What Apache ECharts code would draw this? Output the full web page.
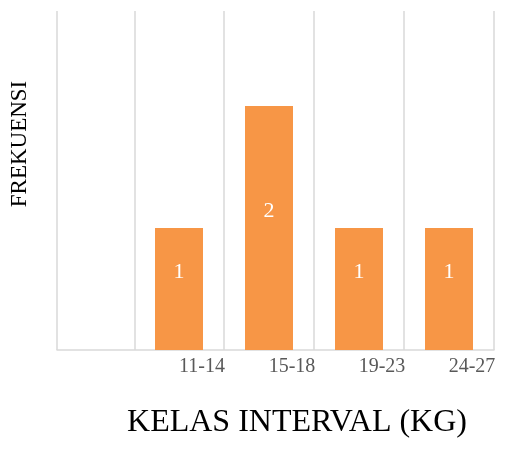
<!DOCTYPE html>
<html>
<head>
<meta charset="utf-8">
<script src="https://cdn.jsdelivr.net/npm/echarts@6/dist/echarts.min.js"></script>
<style>
  html, body { margin: 0; padding: 0; background: #ffffff; }
  #chart { width: 506px; height: 451px; }
</style>
</head>
<body>
<div id="chart"></div>
<script>
// Frequency distribution of weight classes
const classLabels = ['11-14', '15-18', '19-23', '24-27'];
const frequencies = [1, 2, 1, 1];
const xTitle = 'KELAS INTERVAL (KG)';
const yTitle = 'FREKUENSI';

const serif = '"Liberation Serif", "DejaVu Serif", serif';
const gridColor = '#d9d9d9';

const chart = echarts.init(document.getElementById('chart'));

chart.setOption({
  animation: false,
  backgroundColor: '#ffffff',
  grid: [
    // frame grid: vertical gridlines and the base line
    { left: 57, right: 12, top: 11, bottom: 101, containLabel: false },
    // bar grid: four class bands
    { left: 134, right: 12, top: 11, bottom: 101, containLabel: false }
  ],
  xAxis: [
    {
      gridIndex: 0,
      type: 'value',
      min: 0.14,
      max: 5,
      splitNumber: 5,
      axisLine: { show: true, lineStyle: { color: gridColor, width: 1.5 } },
      axisTick: { show: false },
      axisLabel: { show: false },
      splitLine: { show: true, lineStyle: { color: gridColor, width: 1.5 } }
    },
    {
      gridIndex: 1,
      type: 'category',
      data: classLabels,
      axisLine: { show: false },
      axisTick: { show: false },
      splitLine: { show: false },
      axisLabel: {
        interval: 0,
        margin: 7,
        padding: [0, 0, 0, 46],
        color: '#595959',
        fontFamily: serif,
        fontSize: 20
      }
    }
  ],
  yAxis: [
    {
      gridIndex: 0,
      type: 'value',
      min: 0,
      max: 1,
      show: false
    },
    {
      gridIndex: 1,
      type: 'value',
      min: 0,
      max: 2.78,
      show: false
    }
  ],
  series: [
    {
      type: 'bar',
      xAxisIndex: 1,
      yAxisIndex: 1,
      data: frequencies,
      barWidth: 48,
      itemStyle: { color: '#f79646' },
      label: {
        show: true,
        position: 'inside',
        offset: [0, -17],
        color: '#ffffff',
        fontFamily: serif,
        fontSize: 22
      }
    }
  ],
  graphic: [
    {
      type: 'text',
      x: 297,
      y: 423,
      style: {
        text: xTitle,
        fill: '#000000',
        font: '32px ' + serif,
        textAlign: 'center',
        textVerticalAlign: 'middle'
      }
    },
    {
      type: 'text',
      x: 20,
      y: 144,
      rotation: Math.PI / 2,
      style: {
        text: yTitle,
        fill: '#000000',
        font: '23px ' + serif,
        textAlign: 'center',
        textVerticalAlign: 'middle'
      }
    }
  ]
});
</script>
</body>
</html>
